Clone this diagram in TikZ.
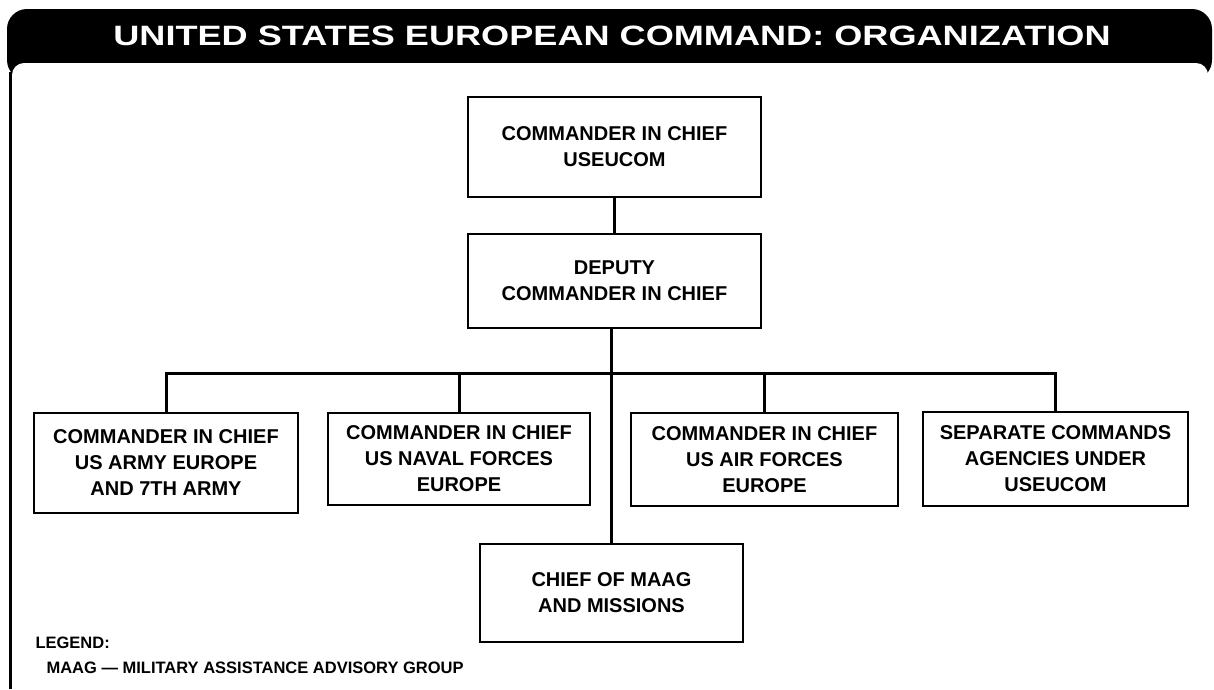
\documentclass[tikz,border=0pt]{standalone}
\usepackage{fontspec}
\setmainfont{Liberation Sans}
\usepackage{tikz}
\usetikzlibrary{calc,positioning}

\begin{document}
\begin{tikzpicture}[x=1pt,y=-1pt,
  post/.style={draw,line width=2.8pt,align=center,inner sep=0pt,
    font=\fontsize{20}{26}\selectfont\bfseries},
  link/.style={line width=3.6pt},
  bus/.style={line width=3pt},
  note/.style={anchor=base west,font=\fontsize{16.5}{18}\selectfont\bfseries}]
\useasboundingbox (0,0) rectangle (1214,689);

\fill[rounded corners=20pt] (7,9) rectangle (1212,80);
\fill[white,rounded corners=12pt] (12,63) rectangle (1208,720);
\draw[line width=3pt] (10.5,72) -- (10.5,689);

\node[text=white,anchor=base,font=\fontsize{28}{30}\selectfont\bfseries] (title) at (612,45)
  {\scalebox{1.29}[1]{UNITED STATES EUROPEAN COMMAND: ORGANIZATION}};

\node[post,minimum width=293pt,minimum height=100pt] (cinc) at (614.5,147) {COMMANDER IN CHIEF\\USEUCOM};
\node[post,minimum width=293pt,minimum height=94pt] (deputy) at (614.5,281) {DEPUTY\\COMMANDER IN CHIEF};

\node[post,minimum width=264pt,minimum height=100pt] (army) at (166,463) {COMMANDER IN CHIEF\\US ARMY EUROPE\\AND 7TH ARMY};
\node[post,minimum width=262pt,minimum height=92pt] (naval) at (459,459) {COMMANDER IN CHIEF\\US NAVAL FORCES\\EUROPE};
\node[post,minimum width=267pt,minimum height=93pt] (air) at (764.5,459.5) {COMMANDER IN CHIEF\\US AIR FORCES\\EUROPE};
\node[post,minimum width=265pt,minimum height=94pt] (sep) at (1055.5,459) {SEPARATE COMMANDS\\AGENCIES UNDER\\USEUCOM};
\node[post,minimum width=263pt,minimum height=98pt] (maag) at (611.5,593) {CHIEF OF MAAG\\AND MISSIONS};

\coordinate (bus) at (0,373);

\draw[link] (cinc) -- (deputy);
\draw[link] (deputy.south -| maag.north) -- (maag.north);
\draw[bus] (army.north) -- (army.north |- bus) -- (sep.north |- bus) -- (sep.north);
\foreach \n in {naval,air}
  \draw[bus] (\n.north) -- (\n.north |- bus);

\node[note] (legend) at (32,648) {LEGEND:};
\node[note] (maagdef) at (43,673) {MAAG — MILITARY ASSISTANCE ADVISORY GROUP};

\end{tikzpicture}
\end{document}
